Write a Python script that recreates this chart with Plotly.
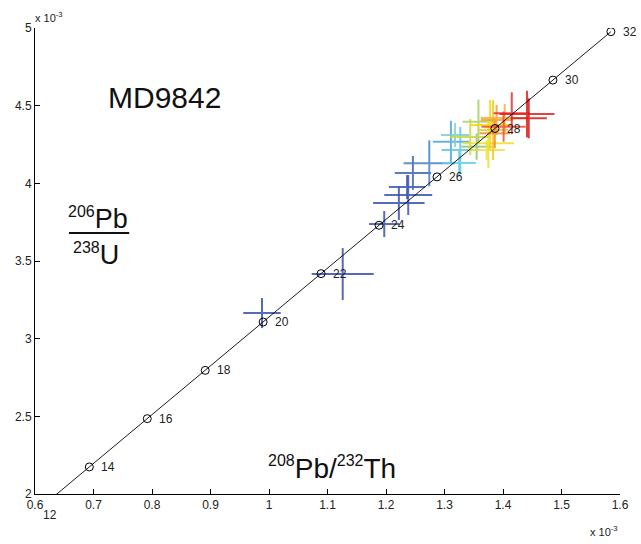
import plotly.graph_objects as go

# Concordia ages (Ma) and ratios (x1e-3)
ages = [12, 14, 16, 18, 20, 22, 24, 26, 28, 30, 32]
conc_x = [0.59388, 0.69289, 0.79191, 0.89095, 0.98999, 1.08904, 1.18811, 1.28718, 1.38626, 1.48535, 1.58445]
conc_y = [1.86320, 2.17411, 2.48508, 2.79615, 3.10732, 3.41858, 3.72994, 4.04140, 4.35295, 4.66460, 4.97634]

# Analyses: 208Pb/232Th (x1e-3), 206Pb/238U (x1e-3) with errors
pt_x  = [0.988, 1.126, 1.197, 1.222, 1.238, 1.236, 1.246, 1.274, 1.311, 1.327, 1.325, 1.318,
         1.355, 1.358, 1.344, 1.372, 1.375, 1.378, 1.383, 1.386, 1.389, 1.403, 1.401, 1.415, 1.441, 1.444]
pt_y  = [3.165, 3.416, 3.738, 3.873, 3.925, 3.976, 4.067, 4.129, 4.268, 4.215, 4.131, 4.311,
         4.236, 4.397, 4.298, 4.215, 4.258, 4.376, 4.343, 4.322, 4.408, 4.421, 4.365, 4.451, 4.446, 4.419]
pt_ex = [0.032, 0.053, 0.026, 0.044, 0.041, 0.031, 0.031, 0.044, 0.031, 0.032, 0.029, 0.024,
         0.026, 0.027, 0.034, 0.031, 0.044, 0.034, 0.026, 0.026, 0.027, 0.041, 0.038, 0.031, 0.047, 0.031]
pt_ey = [0.097, 0.167, 0.084, 0.109, 0.129, 0.077, 0.109, 0.148, 0.135, 0.148, 0.077, 0.077,
         0.084, 0.142, 0.116, 0.064, 0.161, 0.161, 0.193, 0.097, 0.097, 0.090, 0.097, 0.135, 0.150, 0.129]
pt_col = ["#3a4fae", "#3a4fae", "#3a4fae", "#3b52b0", "#3b55b2", "#3d58b4", "#4263b8", "#4a80c4",
          "#4aa8e0", "#5cc6e6", "#62d0ea", "#7ccfd0", "#8cc870", "#a8d060", "#c8d840", "#f0e040",
          "#e8e030", "#f8d800", "#f5c820", "#f08a30", "#f5a030", "#f8b040", "#f05030", "#e83030",
          "#e02020", "#d81818"]

X_RANGE = [0.6, 1.6]
Y_RANGE = [2.0, 5.0]

fig = go.Figure()

for x, y, ex, ey, c in zip(pt_x, pt_y, pt_ex, pt_ey, pt_col):
    fig.add_trace(go.Scatter(
        x=[x], y=[y], mode="markers",
        marker=dict(size=1, color="rgba(0,0,0,0)"),
        error_x=dict(type="constant", value=ex, width=0, thickness=2, color=c),
        error_y=dict(type="constant", value=ey, width=0, thickness=2, color=c),
        opacity=0.85, showlegend=False, hoverinfo="skip"))

fig.add_trace(go.Scatter(
    x=conc_x, y=conc_y, mode="lines+markers",
    line=dict(color="black", width=0.9),
    marker=dict(symbol="circle-open", size=8, color="black", line=dict(width=1)),
    showlegend=False, hoverinfo="skip"))

annotations = []
for a, x, y in zip(ages, conc_x, conc_y):
    px = (x - X_RANGE[0]) / (X_RANGE[1] - X_RANGE[0])
    py = (y - Y_RANGE[0]) / (Y_RANGE[1] - Y_RANGE[0])
    annotations.append(dict(x=px, y=py, xref="paper", yref="paper", text=str(a), showarrow=False,
                            xanchor="left", yanchor="middle", xshift=10,
                            font=dict(family="Liberation Sans", size=12, color="#222")))

annotations += [
    dict(x=0.222, y=0.851, xref="paper", yref="paper", text="MD9842", showarrow=False,
         xanchor="center", yanchor="middle", font=dict(family="Liberation Sans", size=30, color="#111")),
    dict(x=0.108, y=0.592, xref="paper", yref="paper",
         text='<sup><span style="font-size:16px">206</span></sup>Pb', showarrow=False,
         xanchor="center", yanchor="middle", font=dict(family="Liberation Sans", size=27, color="#111")),
    dict(x=0.104, y=0.515, xref="paper", yref="paper",
         text='<sup><span style="font-size:16px">238</span></sup>U', showarrow=False,
         xanchor="center", yanchor="middle", font=dict(family="Liberation Sans", size=27, color="#111")),
    dict(x=0.508, y=0.056, xref="paper", yref="paper",
         text='<sup><span style="font-size:16px">208</span></sup>Pb/<sup><span style="font-size:16px">232</span></sup>Th',
         showarrow=False, xanchor="center", yanchor="middle",
         font=dict(family="Liberation Sans", size=28, color="#111")),
    dict(x=-0.004, y=1.005, xref="paper", yref="paper", text="x 10<sup>-3</sup>", showarrow=False,
         xanchor="left", yanchor="bottom", font=dict(family="Liberation Sans", size=11, color="#222")),
    dict(x=1.0, y=-0.06, xref="paper", yref="paper", text="x 10<sup>-3</sup>", showarrow=False,
         xanchor="right", yanchor="top", font=dict(family="Liberation Sans", size=11, color="#222")),
]

axis_common = dict(showline=True, linecolor="black", linewidth=1, ticks="inside", ticklen=5,
                   tickcolor="black", showgrid=False, zeroline=False, mirror=False, automargin=False,
                   tickfont=dict(family="Liberation Sans", size=12, color="#222"))

fig.update_layout(
    width=641, height=544,
    margin=dict(l=35, r=21, t=28, b=50),
    paper_bgcolor="white", plot_bgcolor="white",
    annotations=annotations,
    shapes=[dict(type="line", xref="paper", yref="paper", x0=0.058, x1=0.161, y0=0.560, y1=0.560,
                 line=dict(color="#111", width=2))],
    xaxis=dict(range=X_RANGE, tickmode="array",
               tickvals=[0.6, 0.7, 0.8, 0.9, 1.0, 1.1, 1.2, 1.3, 1.4, 1.5, 1.6],
               ticktext=["0.6", "0.7", "0.8", "0.9", "1", "1.1", "1.2", "1.3", "1.4", "1.5", "1.6"],
               **axis_common),
    yaxis=dict(range=Y_RANGE, tickmode="array",
               tickvals=[2, 2.5, 3, 3.5, 4, 4.5, 5],
               ticktext=["2", "2.5", "3", "3.5", "4", "4.5", "5"],
               **axis_common),
)

fig.write_html("out.html", config={"displayModeBar": False},
               post_script="document.body.style.margin='0px';document.body.style.overflow='hidden';")
